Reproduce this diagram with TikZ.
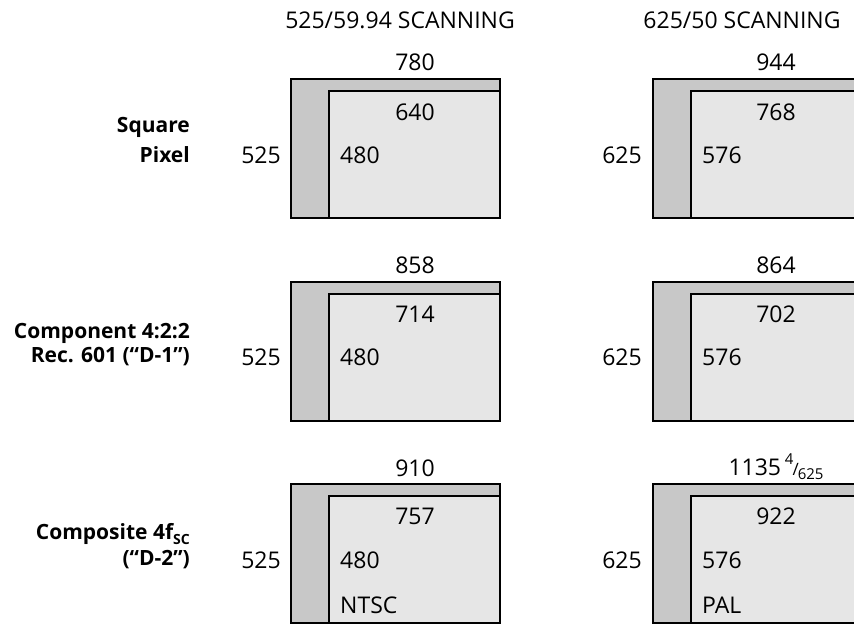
\documentclass[tikz,border=0pt]{standalone}
\usepackage{fontspec}
\setmainfont{Open Sans}
\definecolor{outergray}{HTML}{C8C8C8}
\definecolor{innergray}{HTML}{E6E6E6}
\tikzset{
  outerbox/.style={draw=black, fill=outergray, line width=2.6pt},
  innerbox/.style={draw=black, fill=innergray, line width=2.6pt},
  num/.style={inner sep=0pt, anchor=base, font=\fontsize{23}{27}\selectfont},
  numl/.style={num, anchor=base west},
  rowlbl/.style={inner sep=0pt, anchor=base east, font=\fontsize{21}{25}\selectfont\bfseries},
}
\begin{document}
\begin{tikzpicture}[x=1pt,y=-1pt]
\useasboundingbox (0,0) rectangle (854,624);
\clip (0,0) rectangle (854,624);
% headers
\node[num] (h1) at (400,28.5) {525/59.94 SCANNING};
\node[num] (h2) at (742,28.5) {625/50 SCANNING};
% boxes
\foreach \r/\dy in {1/0,2/203,3/405}{
  \draw[outerbox] (291,79+\dy) rectangle (500,218+\dy);
  \draw[innerbox] (329,91+\dy) rectangle (500,218+\dy);
  \draw[outerbox] (653,79+\dy) rectangle (862,218+\dy);
  \draw[innerbox] (691,91+\dy) rectangle (862,218+\dy);
}
% row 1
\node[rowlbl] (l1a) at (190,132.5) {Square};
\node[rowlbl] (l1b) at (190,162.5) {Pixel};
\node[num] (a1t) at (415,70.5) {780};
\node[num] (a1i) at (415,120.5) {640};
\node[numl] (a1v) at (340,163.5) {480};
\node[num] (a1l) at (261,163.5) {525};
\node[num] (b1t) at (776,70.5) {944};
\node[num] (b1i) at (776,120.5) {768};
\node[numl] (b1v) at (702,163.5) {576};
\node[num] (b1l) at (622,163.5) {625};
% row 2
\node[rowlbl] (l2a) at (190,338.5) {Component 4:2:2};
\node[rowlbl] (l2b) at (190,362.5) {Rec. 601 (“D-1”)};
\node[num] (a2t) at (415,273.5) {858};
\node[num] (a2i) at (415,322.5) {714};
\node[numl] (a2v) at (340,365.5) {480};
\node[num] (a2l) at (261,365.5) {525};
\node[num] (b2t) at (776,273.5) {864};
\node[num] (b2i) at (776,322.5) {702};
\node[numl] (b2v) at (702,365.5) {576};
\node[num] (b2l) at (622,365.5) {625};
% row 3
\node[rowlbl] (l3a) at (190,539.5) {Composite 4f\raisebox{-0.25em}{\fontsize{14}{16}\selectfont SC}};
\node[rowlbl] (l3b) at (190,565.5) {(“D-2”)};
\node[num] (a3t) at (415,476.5) {910};
\node[num] (a3i) at (415,524.5) {757};
\node[numl] (a3v) at (340,568.5) {480};
\node[numl] (a3n) at (340,613.5) {NTSC};
\node[num] (a3l) at (261,568.5) {525};
\node[num] (b3t) at (776,475) {1135\,\raisebox{0.45em}{\fontsize{15}{17}\selectfont 4}\kern-1pt{\fontsize{17}{19}\selectfont /}\kern-1pt\raisebox{-0.2em}{\fontsize{15}{17}\selectfont 625}};
\node[num] (b3i) at (776,524.5) {922};
\node[numl] (b3v) at (702,568.5) {576};
\node[numl] (b3n) at (702,613.5) {PAL};
\node[num] (b3l) at (622,568.5) {625};
\end{tikzpicture}
\end{document}
